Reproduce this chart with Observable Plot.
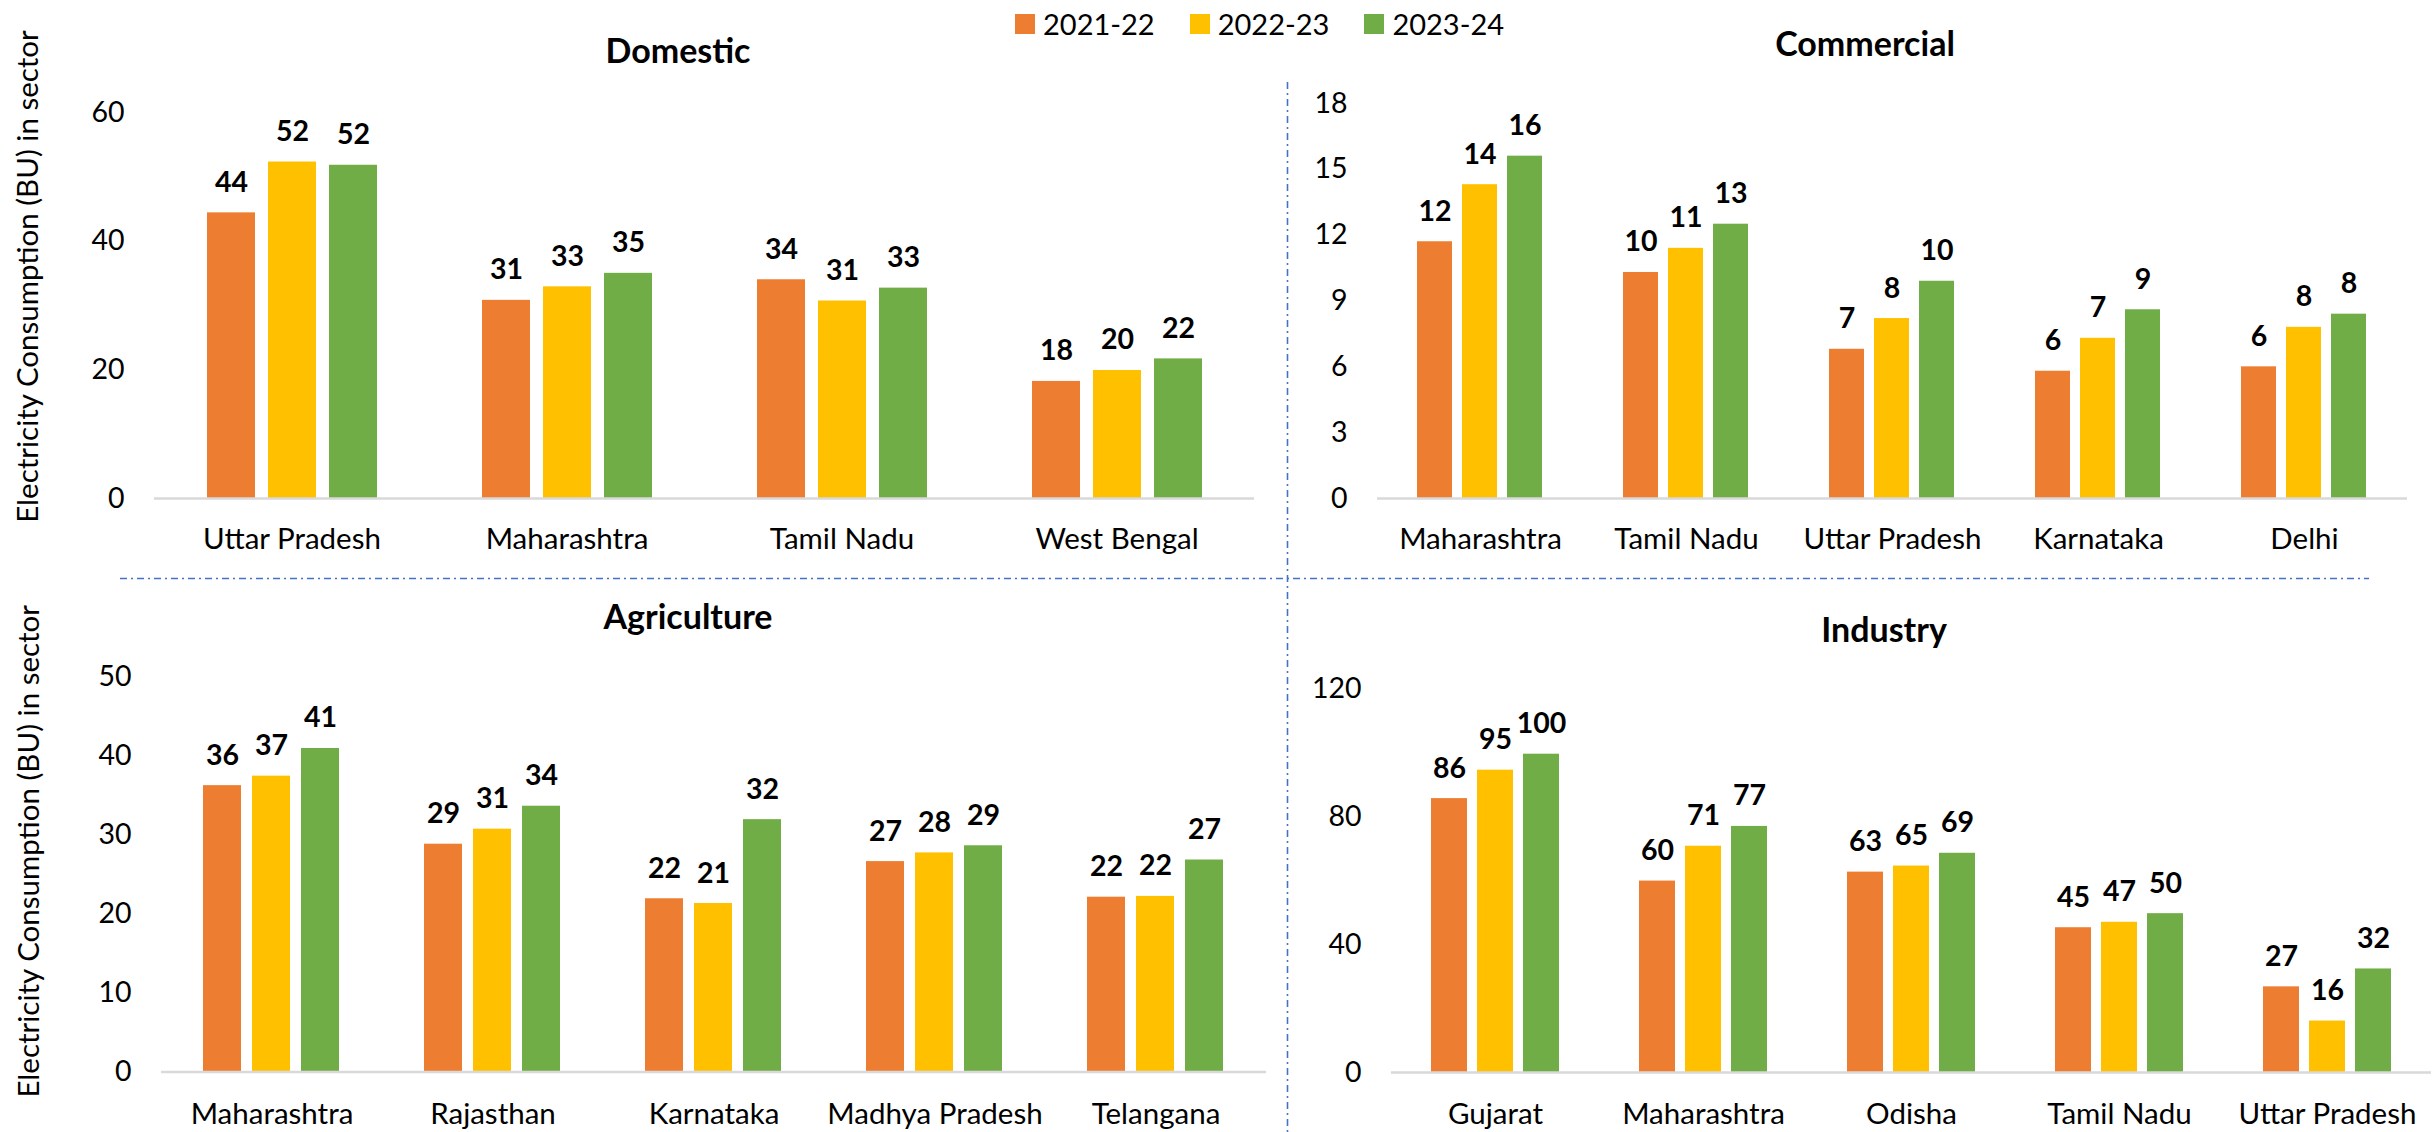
<!DOCTYPE html>
<html>
<head>
<meta charset="utf-8">
<script src="https://cdn.jsdelivr.net/npm/d3@7"></script>
<script src="https://cdn.jsdelivr.net/npm/@observablehq/plot@0.6"></script>
<style>
  html, body { margin: 0; padding: 0; background: #fff; }
  #page { position: relative; width: 2432px; height: 1132px; overflow: hidden; background: #fff;
          font-family: Lato, "Open Sans", sans-serif; color: #000; }
  .ttl { position: absolute; font-weight: bold; font-size: 34px; line-height: 34px; color: #000;
         transform: translateX(-50%); white-space: nowrap; }
  .panel { position: absolute; }
  .panel svg { overflow: visible; display: block; }
  #legend { position: absolute; display: flex; align-items: center; font-size: 29px; line-height: 29px; color: #000; white-space: nowrap; }
  #legend .sw { display: inline-block; width: 20px; height: 20px; margin-right: 8px; }
  #legend .it { display: inline-flex; align-items: center; margin-right: 35px; }
  #legend .it:last-child { margin-right: 0; }
  #sep { position: absolute; left: 0; top: 0; pointer-events: none; }
</style>
</head>
<body>
<div id="page"></div>
<script>
// ---------------- data ----------------
const years = ["2021-22", "2022-23", "2023-24"];
const yearColors = ["#ED7D31", "#FFC000", "#70AD47"];
const yAxisTitle = "Electricity Consumption (BU) in sector";

const domesticStates = ["Uttar Pradesh", "Maharashtra", "Tamil Nadu", "West Bengal"];
const domestic2122 = [44.4, 30.8, 34.0, 18.2];
const domestic2223 = [52.3, 32.9, 30.7, 19.9];
const domestic2324 = [51.8, 35.0, 32.7, 21.7];
const domesticTicks = [0, 20, 40, 60];

const commercialStates = ["Maharashtra", "Tamil Nadu", "Uttar Pradesh", "Karnataka", "Delhi"];
const commercial2122 = [11.7, 10.3, 6.8, 5.8, 6.0];
const commercial2223 = [14.3, 11.4, 8.2, 7.3, 7.8];
const commercial2324 = [15.6, 12.5, 9.9, 8.6, 8.4];
const commercialTicks = [0, 3, 6, 9, 12, 15, 18];

const agricultureStates = ["Maharashtra", "Rajasthan", "Karnataka", "Madhya Pradesh", "Telangana"];
const agriculture2122 = [36.2, 28.8, 21.9, 26.6, 22.1];
const agriculture2223 = [37.4, 30.7, 21.3, 27.7, 22.2];
const agriculture2324 = [40.9, 33.6, 31.9, 28.6, 26.8];
const agricultureTicks = [0, 10, 20, 30, 40, 50];

const industryStates = ["Gujarat", "Maharashtra", "Odisha", "Tamil Nadu", "Uttar Pradesh"];
const industry2122 = [85.7, 59.9, 62.7, 45.3, 26.8];
const industry2223 = [94.6, 70.8, 64.6, 47.0, 16.1];
const industry2324 = [99.6, 77.0, 68.6, 49.7, 32.4];
const industryTicks = [0, 40, 80, 120];

// ---------------- layout ----------------
const page = document.getElementById("page");
const FONT = "Lato, 'Open Sans', sans-serif";

function sectorChart(cfg) {
  const rows = cfg.states.flatMap((state, i) =>
    years.map((year, j) => ({state, year, value: cfg.series[j][i]})));
  const marks = [
    Plot.barY(rows, {fx: "state", x: "year", y: "value", fill: "year"}),
    Plot.ruleY([0], {stroke: "#d9d9d9", strokeWidth: 2.5}),
    Plot.text(rows, {fx: "state", x: "year", y: "value", text: d => String(Math.round(d.value)),
      lineAnchor: "bottom", dy: -21, fontWeight: "bold", fontSize: 28.5, fill: "#000"}),
    Plot.axisY(cfg.ticks, {tickSize: 0, tickPadding: 30, tickFormat: d => String(d), label: null, fontSize: 28.5, fill: "#000"}),
    Plot.axisFx({anchor: "bottom", tickSize: 0, tickPadding: cfg.fxPad, label: null, fontSize: 29.5, fill: "#000"})
  ];
  if (cfg.ylabel) {
    marks.push(Plot.text([cfg.ylabel], {fx: [cfg.states[0]], text: d => d, frameAnchor: "left",
      textAnchor: "middle", lineAnchor: "middle", rotate: -90, dx: cfg.labelDx, dy: cfg.labelDy,
      fontSize: 29.5, fill: "#000"}));
  }
  return Plot.plot({
    width: cfg.width, height: cfg.height,
    marginLeft: cfg.marginLeft, marginRight: cfg.marginRight,
    marginTop: cfg.marginTop, marginBottom: cfg.marginBottom,
    style: {fontFamily: FONT, fontSize: "28px", color: "#000", background: "transparent", overflow: "visible"},
    fx: {domain: cfg.states, padding: 0, label: null},
    x: {domain: years, paddingInner: 0.22, paddingOuter: 0.86, axis: null},
    y: {domain: [0, cfg.max], label: null},
    color: {domain: years, range: yearColors},
    marks
  });
}

function addPanel(cfg) {
  const t = document.createElement("div");
  t.className = "ttl";
  t.textContent = cfg.title;
  t.style.left = cfg.titleX + "px";
  t.style.top = cfg.titleTop + "px";
  page.appendChild(t);
  const p = document.createElement("div");
  p.className = "panel";
  p.style.left = cfg.left + "px";
  p.style.top = cfg.top + "px";
  p.appendChild(sectorChart(cfg));
  page.appendChild(p);
}

addPanel({title: "Domestic", titleX: 678, titleTop: 33,
  left: 0, top: 70, width: 1287, height: 505,
  marginLeft: 153, marginRight: 33, marginTop: 42, marginBottom: 77, fxPad: 30,
  states: domesticStates, series: [domestic2122, domestic2223, domestic2324],
  ticks: domesticTicks, max: 60, ylabel: yAxisTitle, labelDx: -126, labelDy: -29});

addPanel({title: "Commercial", titleX: 1865, titleTop: 26,
  left: 1287, top: 70, width: 1145, height: 505,
  marginLeft: 89, marginRight: 25, marginTop: 33, marginBottom: 77, fxPad: 30,
  states: commercialStates, series: [commercial2122, commercial2223, commercial2324],
  ticks: commercialTicks, max: 18});

addPanel({title: "Agriculture", titleX: 688, titleTop: 599,
  left: 0, top: 640, width: 1287, height: 492,
  marginLeft: 159, marginRight: 20, marginTop: 36, marginBottom: 60.5, fxPad: 31,
  states: agricultureStates, series: [agriculture2122, agriculture2223, agriculture2324],
  ticks: agricultureTicks, max: 50, ylabel: yAxisTitle, labelDx: -132, labelDy: -23});

addPanel({title: "Industry", titleX: 1884, titleTop: 612,
  left: 1287, top: 650, width: 1145, height: 482,
  marginLeft: 104, marginRight: 1, marginTop: 38.5, marginBottom: 60, fxPad: 31,
  states: industryStates, series: [industry2122, industry2223, industry2324],
  ticks: industryTicks, max: 120});

// legend
const legend = document.createElement("div");
legend.id = "legend";
legend.style.left = "1015px";
legend.style.top = "9px";
years.forEach((y, i) => {
  const it = document.createElement("span");
  it.className = "it";
  const sw = document.createElement("span");
  sw.className = "sw";
  sw.style.background = yearColors[i];
  it.appendChild(sw);
  it.appendChild(document.createTextNode(y));
  legend.appendChild(it);
});
page.appendChild(legend);

// dash-dot separators between the four panels
const NS = "http://www.w3.org/2000/svg";
const sep = document.createElementNS(NS, "svg");
sep.setAttribute("id", "sep");
sep.setAttribute("width", 2432);
sep.setAttribute("height", 1132);
[[1287.5, 82, 1287.5, 1132], [120, 578.5, 2369, 578.5]].forEach(([x1, y1, x2, y2]) => {
  const l = document.createElementNS(NS, "line");
  l.setAttribute("x1", x1); l.setAttribute("y1", y1);
  l.setAttribute("x2", x2); l.setAttribute("y2", y2);
  l.setAttribute("stroke", "#4472C4");
  l.setAttribute("stroke-width", 1.6);
  l.setAttribute("stroke-dasharray", "7 4 2 4");
  sep.appendChild(l);
});
page.appendChild(sep);
</script>
</body>
</html>
